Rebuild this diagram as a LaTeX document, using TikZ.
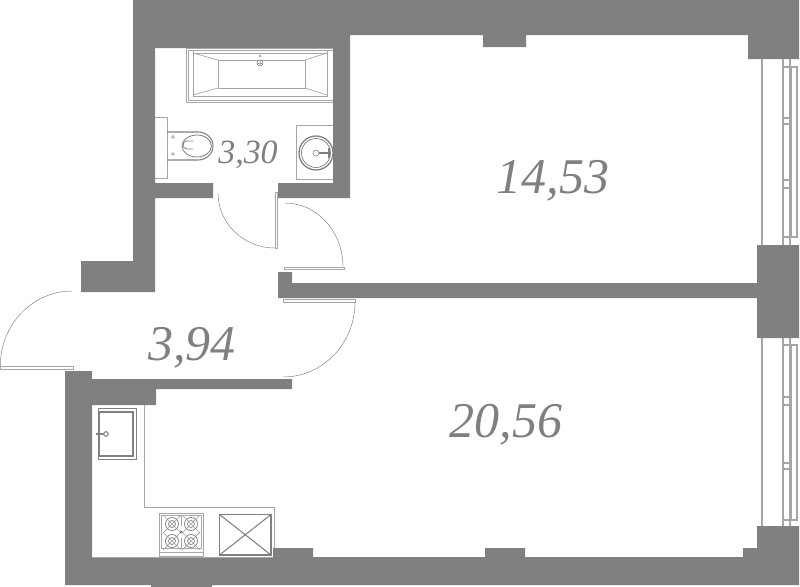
\documentclass[tikz,border=0pt]{standalone}
\usepackage{fontspec}
\setmainfont{Liberation Serif}
\definecolor{wallgray}{HTML}{808080}
\definecolor{fixgray}{HTML}{A6A6A6}
\tikzset{
  wall/.style={fill=wallgray},
  fixture/.style={draw=fixgray,line width=.6pt},
  fixturedark/.style={draw=wallgray,line width=.9pt},
  doorarc/.style={draw=wallgray,line width=.4pt},
  doorleaf/.style={draw=fixgray,line width=.6pt,fill=white},
  windowline/.style={draw=fixgray,line width=1pt},
  bigarea/.style={text=wallgray,anchor=base,inner sep=0pt,font=\fontsize{42.7}{50}\selectfont\itshape},
  smallarea/.style={text=wallgray,anchor=base,inner sep=0pt,font=\fontsize{29}{34}\selectfont\itshape}
}
\begin{document}
\begin{tikzpicture}[x=0.03cm,y=-0.03cm]
      \useasboundingbox (0,0) rectangle (800,587);
      \fill[wall] (133,0)--(799,0)--(799,59)--(748,59)--(748,35)--(526,35)--(526,47)--(483,47)--(483,35)--(350,35)--(350,198)--(278,198)--(278,183)--(333,183)--(333,48)--(155,48)--(155,183)--(213,183)--(213,198)--(155,198)--(155,292)--(81,292)--(81,261)--(133,261)--cycle;
      \fill[wall] (278,272)--(292,272)--(292,283)--(757,283)--(757,245)--(799,245)--(799,338)--(757,338)--(757,298)--(278,298)--cycle;
      \fill[wall] (65,371)--(92,371)--(92,379)--(292,379)--(292,389)--(156,389)--(156,405)--(92,405)--(92,557)--(273,557)--(273,548)--(313,548)--(313,557)--(485,557)--(485,548)--(525,548)--(525,557)--(743,557)--(743,548)--(757,548)--(757,526)--(799,526)--(799,585)--(212,585)--(212,587)--(151,587)--(151,585)--(65,585)--cycle;
      % doors
      \draw[doorleaf] (275,192) rectangle (277.5,248);
      \draw[doorarc] (218,193) arc [start angle=180,end angle=90,x radius=57,y radius=55];
      \draw[doorleaf] (284,267) rectangle (344,269.5);
      \draw[doorarc] (285,203) arc [start angle=-90,end angle=0,x radius=58,y radius=64];
      \draw[doorleaf] (283,299) rectangle (355,302);
      \draw[doorarc] (355,302) arc [start angle=0,end angle=90,x radius=72,y radius=75];
      \draw[doorleaf] (0.3,366) rectangle (73,369);
      \draw[doorarc] (0.3,366) arc [start angle=180,end angle=270,x radius=72,y radius=75];
      % bath
      \draw[fixture] (333,48)--(186,48)--(186,102)--(333,102);
      \draw[fixture] (333,50)--(188,50)--(188,100)--(333,100);
      \draw[fixture] (193,50)--(193,96)--(327,96)--(327,50);
      \draw[fixture] (218,60) rectangle (305,88);
      \draw[fixture] (193,53)--(218,60) (193,95)--(218,88) (327,53)--(305,60) (327,95)--(305,88);
      \draw[fixture] (193,53)--(327,53);
      \draw[fixturedark,line width=.5pt] (260,63) circle [radius=3];
      \draw[fixture] (260,56) circle [radius=.8];
      \draw[fixture] (257,63)--(263,63) (260,60)--(260,66);
      % toilet
      \draw[fixture] (155,117)--(167,117)--(167,178)--(155,178);
      \draw[fixturedark] (167,132)--(198,132) arc [start angle=-90,end angle=90,x radius=15,y radius=14]--(167,160);
      \draw[fixturedark,line width=.7pt] (197,135) arc [start angle=-90,end angle=90,x radius=14.5,y radius=11] arc [start angle=90,end angle=270,x radius=15,y radius=11];
      \draw[fixturedark,line width=.7pt] (193,141)--(187,141) arc [start angle=-90,end angle=-270,x radius=4,y radius=4]--(193,149);
      \draw[fixture] (173,137) circle [radius=1.3];
      \draw[fixture] (173,154) circle [radius=1.3];
      % basin
      \draw[fixture] (333,125)--(296,125)--(296,179)--(333,179);
      \draw[fixturedark,line width=1.1pt] (316,153) circle [radius=17];
      \draw[fixturedark,line width=.6pt] (316,153) circle [radius=14.5];
      \draw[fixturedark,line width=.5pt] (316,153) circle [radius=3];
      \draw[fixturedark] (319,153)--(329,153);
      \draw[fixturedark] (329,148)--(329,158);
      % kitchen
      \draw[fixture,line width=.7pt] (144,405)--(144,507)--(274,507)--(274,548);
      \draw[fixture] (92,557.5)--(273,557.5);
      \draw[fixturedark,line width=1.2pt] (98.5,408.5) rectangle (136.5,459.5);
      \draw[fixturedark] (99,412) rectangle (133,456);
      \draw[fixturedark] (96,434)--(104,434);
      \draw[fixturedark,fill=white] (106,434) circle [radius=2.3];
      \draw[fixture,line width=.7pt] (159,513) rectangle (203,556);
      \draw[fixture] (161,515) rectangle (201,548);
      \draw[fixture] (159,552)--(203,552);
      \draw[fixture] (181,515)--(181,526) (181,538)--(181,548);
      \foreach \hx/\hy in {172/524,191/524,172/541,191/541}{
        \draw[fixture] (\hx-9,\hy-9)--(\hx+9,\hy+9) (\hx-9,\hy+9)--(\hx+9,\hy-9);
        \draw[fixturedark,line width=.6pt] (\hx,\hy) circle [radius=6.5];
        \draw[fixturedark,line width=.6pt] (\hx,\hy) circle [radius=3.5];
      }
      \fill[wallgray] (181,532) circle [radius=1.6];
      \draw[fixturedark,line width=1.2pt] (219.5,514.5) rectangle (271,555);
      \draw[fixturedark] (219.5,514.5)--(271,555) (219.5,555)--(271,514.5);
      % windows
      \draw[windowline,line width=1.3pt] (762,59)--(762,245);
      \draw[windowline,line width=1.3pt] (762,338)--(762,526);
      \draw[windowline] (783,59)--(783,245) (790,59)--(790,245);
      \draw[windowline] (783,338)--(783,526) (790,338)--(790,526);
      \draw[windowline] (791.5,67) rectangle (797,237);
      \draw[windowline] (791.5,345) rectangle (797,520);
      \foreach \wy in {67,118,124,180,188,237,397,405,463,469,345,520}{
        \draw[windowline] (783,\wy)--(790,\wy);
      }
      \node[bigarea] (bedroom) at (553,193) {14,53};
      \node[bigarea] (living) at (506,437) {20,56};
      \node[bigarea] (hall) at (192,360) {3,94};
      \node[smallarea] (bathroom) at (248,163) {3,30};
\end{tikzpicture}
\end{document}
